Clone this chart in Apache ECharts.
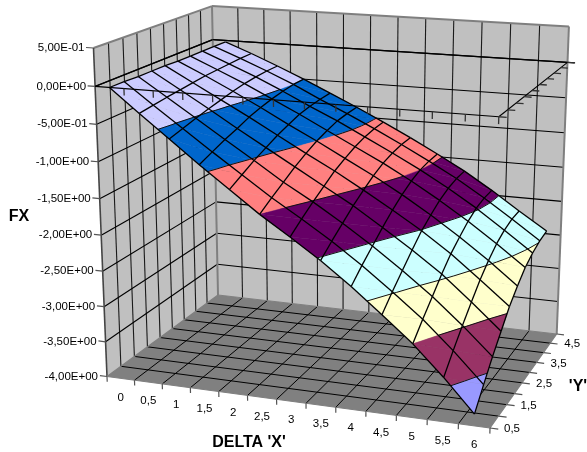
<!DOCTYPE html>
<html>
<head>
<meta charset="utf-8">
<style>html,body{margin:0;padding:0;background:#fff}#chart{width:587px;height:452px}</style>
<script src="https://cdn.jsdelivr.net/npm/echarts@6/dist/echarts.min.js"></script>
</head>
<body>
<div id="chart"></div>
<script>
// Categories and value ticks
const deltaX = ['0','0,5','1','1,5','2','2,5','3','3,5','4','4,5','5','5,5','6'];
const deltaY = ['0,5','1','1,5','2','2,5','3','3,5','4','4,5','5'];
const yLabelEvery = 2;
const fxTicks = [0.5,0,-0.5,-1,-1.5,-2,-2.5,-3,-3.5,-4];
const fxTickLabels = ['5,00E-01','0,00E+00','-5,00E-01','-1,00E+00','-1,50E+00','-2,00E+00','-2,50E+00','-3,00E+00','-3,50E+00','-4,00E+00'];

// FX along DELTA 'X', one row per DELTA 'Y'
const fxY05 = [0,-0.31,-0.615,-0.92,-1.21,-1.5,-1.76,-2.03,-2.33,-2.66,-3,-3.4,-3.84];
const fxY10 = [0,-0.285,-0.564,-0.844,-1.115,-1.385,-1.632,-1.89,-2.173,-2.484,-2.807,-3.184,-3.595];
const fxY15 = [-0.01,-0.26,-0.515,-0.77,-1.02,-1.28,-1.51,-1.76,-2.03,-2.32,-2.63,-2.98,-3.36];
const fxY20 = [-0.01,-0.24,-0.47,-0.71,-0.94,-1.17,-1.4,-1.63,-1.89,-2.16,-2.45,-2.79,-3.15];
const fxY25 = [-0.01,-0.22,-0.43,-0.64,-0.86,-1.08,-1.29,-1.52,-1.76,-2.01,-2.29,-2.61,-2.94];
const fxY30 = [-0.02,-0.2,-0.39,-0.59,-0.8,-1,-1.21,-1.42,-1.65,-1.9,-2.17,-2.46,-2.78];
const fxY35 = [-0.02,-0.19,-0.36,-0.55,-0.74,-0.94,-1.14,-1.34,-1.56,-1.8,-2.06,-2.34,-2.64];
const fxY40 = [-0.02,-0.18,-0.34,-0.52,-0.71,-0.89,-1.09,-1.29,-1.5,-1.73,-1.98,-2.26,-2.55];
const fxY45 = [-0.02,-0.17,-0.33,-0.5,-0.69,-0.87,-1.06,-1.26,-1.47,-1.69,-1.94,-2.21,-2.49];
const fxY50 = [-0.02,-0.17,-0.33,-0.5,-0.68,-0.86,-1.05,-1.25,-1.46,-1.68,-1.93,-2.2,-2.46];
const fxRows = [fxY05,fxY10,fxY15,fxY20,fxY25,fxY30,fxY35,fxY40,fxY45,fxY50];

// One fill per half-unit band of FX, top band first
const bandColors = ['#CCCCFF','#0066CC','#FF8080','#660066','#CCFFFF','#FFFFCC','#993366','#9999FF'];
const bandEdges = [0.5,-0.5,-1,-1.5,-2,-2.5,-3,-3.5,-4.5];

// Perspective camera for the unit box (u along X, v along Y, w along FX)
const camera = {
  ax:347.34, bx:142.64, cx:-18.73, dx:107,
  ay:20.35,  by:-38.69, cy:-331.2, dy:376.5,
  az:-0.07277, bz:0.14513, cz:-0.05595
};
function project(p) {
  const c = camera, d = 1 + c.az*p[0] + c.bz*p[1] + c.cz*p[2];
  return [(c.ax*p[0] + c.bx*p[1] + c.cx*p[2] + c.dx)/d,
          (c.ay*p[0] + c.by*p[1] + c.cy*p[2] + c.dy)/d];
}

const fxMin = -4, fxMax = 0.5;
const nx = deltaX.length, ny = deltaY.length;
const wOf = z => (z - fxMin)/(fxMax - fxMin);
const uOf = i => (i + 0.5)/nx;
const vOf = j => j/(ny - 1);

const shapes = [];
const line = (a,b,color,width) => shapes.push({kind:'line',pts:[a,b],color,width});
const poly = (pts,fill,stroke,width) => shapes.push({kind:'poly',pts,fill,stroke,width});
const text = (at,str,dx,dy,align,font) => shapes.push({kind:'text',at,str,dx,dy,align,font});

// Walls and floor
const wallFill = '#C0C0C0', wallEdge = '#7f7f7f', floorFill = '#808080';
poly([[0,0,0],[0,1,0],[0,1,1],[0,0,1]],wallFill);
poly([[0,1,0],[1,1,0],[1,1,1],[0,1,1]],wallFill);
poly([[0,0,0],[1,0,0],[1,1,0],[0,1,0]],floorFill);
for (let k = 1; k < ny - 1; k++) line([0,k/(ny-1),0],[0,k/(ny-1),1],'#1a1a1a',1.1);
for (let k = 1; k < nx; k++) line([k/nx,1,0],[k/nx,1,1],'#1a1a1a',1.1);
fxTicks.slice(1,-1).forEach(z => {
  const w = wOf(z);
  line([0,0,w],[0,1,w],'#000',1.1);
  line([0,1,w],[1,1,w],'#000',1.1);
});
for (let k = 1; k < ny - 1; k++) line([0,k/(ny-1),0],[1,k/(ny-1),0],'#000',1);
for (let k = 1; k < nx; k++) line([k/nx,0,0],[k/nx,1,0],'#000',1);
line([0,0,1],[0,1,1],wallEdge,2);
line([0,1,1],[1,1,1],wallEdge,2);
line([1,1,1],[1,1,0],wallEdge,2);
line([0,0,0],[0,0,1],'#444',1.6);
line([0,1,0],[0,1,1],wallEdge,2);
line([0,0,0],[1,0,0],wallEdge,1.2);
line([1,0,0],[1,1,0],wallEdge,1.2);
line([0,1,0],[1,1,0],wallEdge,1.2);
line([0,0,0],[0,1,0],wallEdge,1.2);

// Back and left edges of the plane FX = 0 lie behind the surface
const w0 = wOf(0);
line([0,0,w0],[0,1,w0],'#000',1.2);
line([0,1,w0],[1,1,w0],'#000',1.2);

// Surface: each cell is split into triangles and cut along the band edges
function clip(tri, lo, hi) {
  let out = tri;
  [[hi,1],[lo,-1]].forEach(([level,sign]) => {
    const res = [];
    out.forEach((a,n) => {
      const b = out[(n+1)%out.length];
      const ia = (level - a[3])*sign >= 0, ib = (level - b[3])*sign >= 0;
      if (ia) res.push(a);
      if (ia !== ib) {
        const t = (level - a[3])/(b[3] - a[3]);
        res.push(a.map((c,m) => c + (b[m]-c)*t));
      }
    });
    out = res;
  });
  return out;
}
function vertex(i,j) { return [uOf(i),vOf(j),wOf(fxRows[j][i]),fxRows[j][i]]; }
function crossing(tri, level) {
  const found = [];
  tri.forEach((a,n) => {
    const b = tri[(n+1)%3];
    if ((a[3]-level)*(b[3]-level) < 0) {
      const t = (level-a[3])/(b[3]-a[3]);
      found.push(a.map((c,m) => c + (b[m]-c)*t));
    }
  });
  return found.length === 2 ? found : null;
}
const triangles = [];
for (let j = 0; j < ny - 1; j++) for (let i = 0; i < nx - 1; i++) {
  const a = vertex(i,j), b = vertex(i+1,j), c = vertex(i+1,j+1), d = vertex(i,j+1);
  triangles.push([a,b,c],[a,c,d]);
}
bandColors.forEach((color,n) => {
  triangles.forEach(tri => {
    const piece = clip(tri, bandEdges[n+1], bandEdges[n]);
    if (piece.length > 2) poly(piece,color,color,0.4);
  });
});
bandEdges.slice(1,-1).forEach(level => {
  triangles.forEach(tri => {
    const seg = crossing(tri, level);
    if (seg) line(seg[0],seg[1],'#111',1);
  });
});
for (let j = 0; j < ny; j++) for (let i = 0; i < nx - 1; i++) line(vertex(i,j),vertex(i+1,j),'#000',1.3);
for (let i = 0; i < nx; i++) for (let j = 0; j < ny - 1; j++) line(vertex(i,j),vertex(i,j+1),'#000',1.3);

// Front and right edges of the plane FX = 0 with their ticks
line([0,0,w0],[1,0,w0],'#000',1.1);
line([1,0,w0],[1,1,w0],'#000',1.1);
line([1,1,w0],[1.02,1,w0],'#000',1.1);
for (let k = 1; k <= nx; k++) line([k/nx,0,w0],[k/nx,0,w0-0.02],'#333',1.3);
for (let k = 0; k < ny; k++) line([1,k/(ny-1),w0],[1.018,k/(ny-1),w0],'#333',1.3);

// Outer ticks and labels
const labelFont = '11.5px "Liberation Sans", Arial, sans-serif';
const titleFont = 'bold 16px "Liberation Sans", Arial, sans-serif';
fxTicks.forEach((z,n) => {
  const w = wOf(z);
  line([0,0,w],[-0.02,0,w],'#555',1.2);
  text([0,0,w],fxTickLabels[n],-9,0,'right',labelFont);
});
for (let k = 0; k <= nx; k++) line([k/nx,0,0],[k/nx,0,-0.017],'#555',1.2);
deltaX.forEach((s,i) => text([uOf(i),0,0],s,0,19,'center',labelFont));
deltaY.forEach((s,k) => {
  const v = k/(ny-1);
  line([1,v,0],[1.02,v,0],'#555',1.2);
  if (k % yLabelEvery === 0) text([1,v,0],s,22,1,'center',labelFont);
});
text(null,'FX',19,216.5,'center',titleFont);
text(null,"DELTA 'X'",249,442.5,'center',titleFont);
text(null,"'Y'",578,386.5,'center',titleFont);

function renderShape(params, api) {
  const s = shapes[params.dataIndex];
  if (s.kind === 'text') {
    const base = s.at ? project(s.at) : [0,0];
    const c = api.coord([base[0]+s.dx, base[1]+s.dy]);
    return {type:'text',style:{text:s.str,x:c[0],y:c[1],align:s.align,verticalAlign:'middle',font:s.font,fill:'#000'}};
  }
  const pts = s.pts.map(p => api.coord(project(p)));
  if (s.kind === 'line') {
    return {type:'line',shape:{x1:pts[0][0],y1:pts[0][1],x2:pts[1][0],y2:pts[1][1]},style:{stroke:s.color,lineWidth:s.width}};
  }
  return {type:'polygon',shape:{points:pts},style:{fill:s.fill,stroke:s.stroke||null,lineWidth:s.width||0}};
}

const chart = echarts.init(document.getElementById('chart'),null,{renderer:'canvas'});
chart.setOption({
  animation:false,
  backgroundColor:'#fff',
  grid:{left:0,right:0,top:0,bottom:0},
  xAxis:{type:'value',min:0,max:587,show:false},
  yAxis:{type:'value',min:0,max:452,inverse:true,show:false},
  series:[{
    type:'custom',
    coordinateSystem:'cartesian2d',
    clip:false,
    silent:true,
    data:shapes.map((s,n) => [n,0]),
    renderItem:renderShape
  }]
});
</script>
</body>
</html>
